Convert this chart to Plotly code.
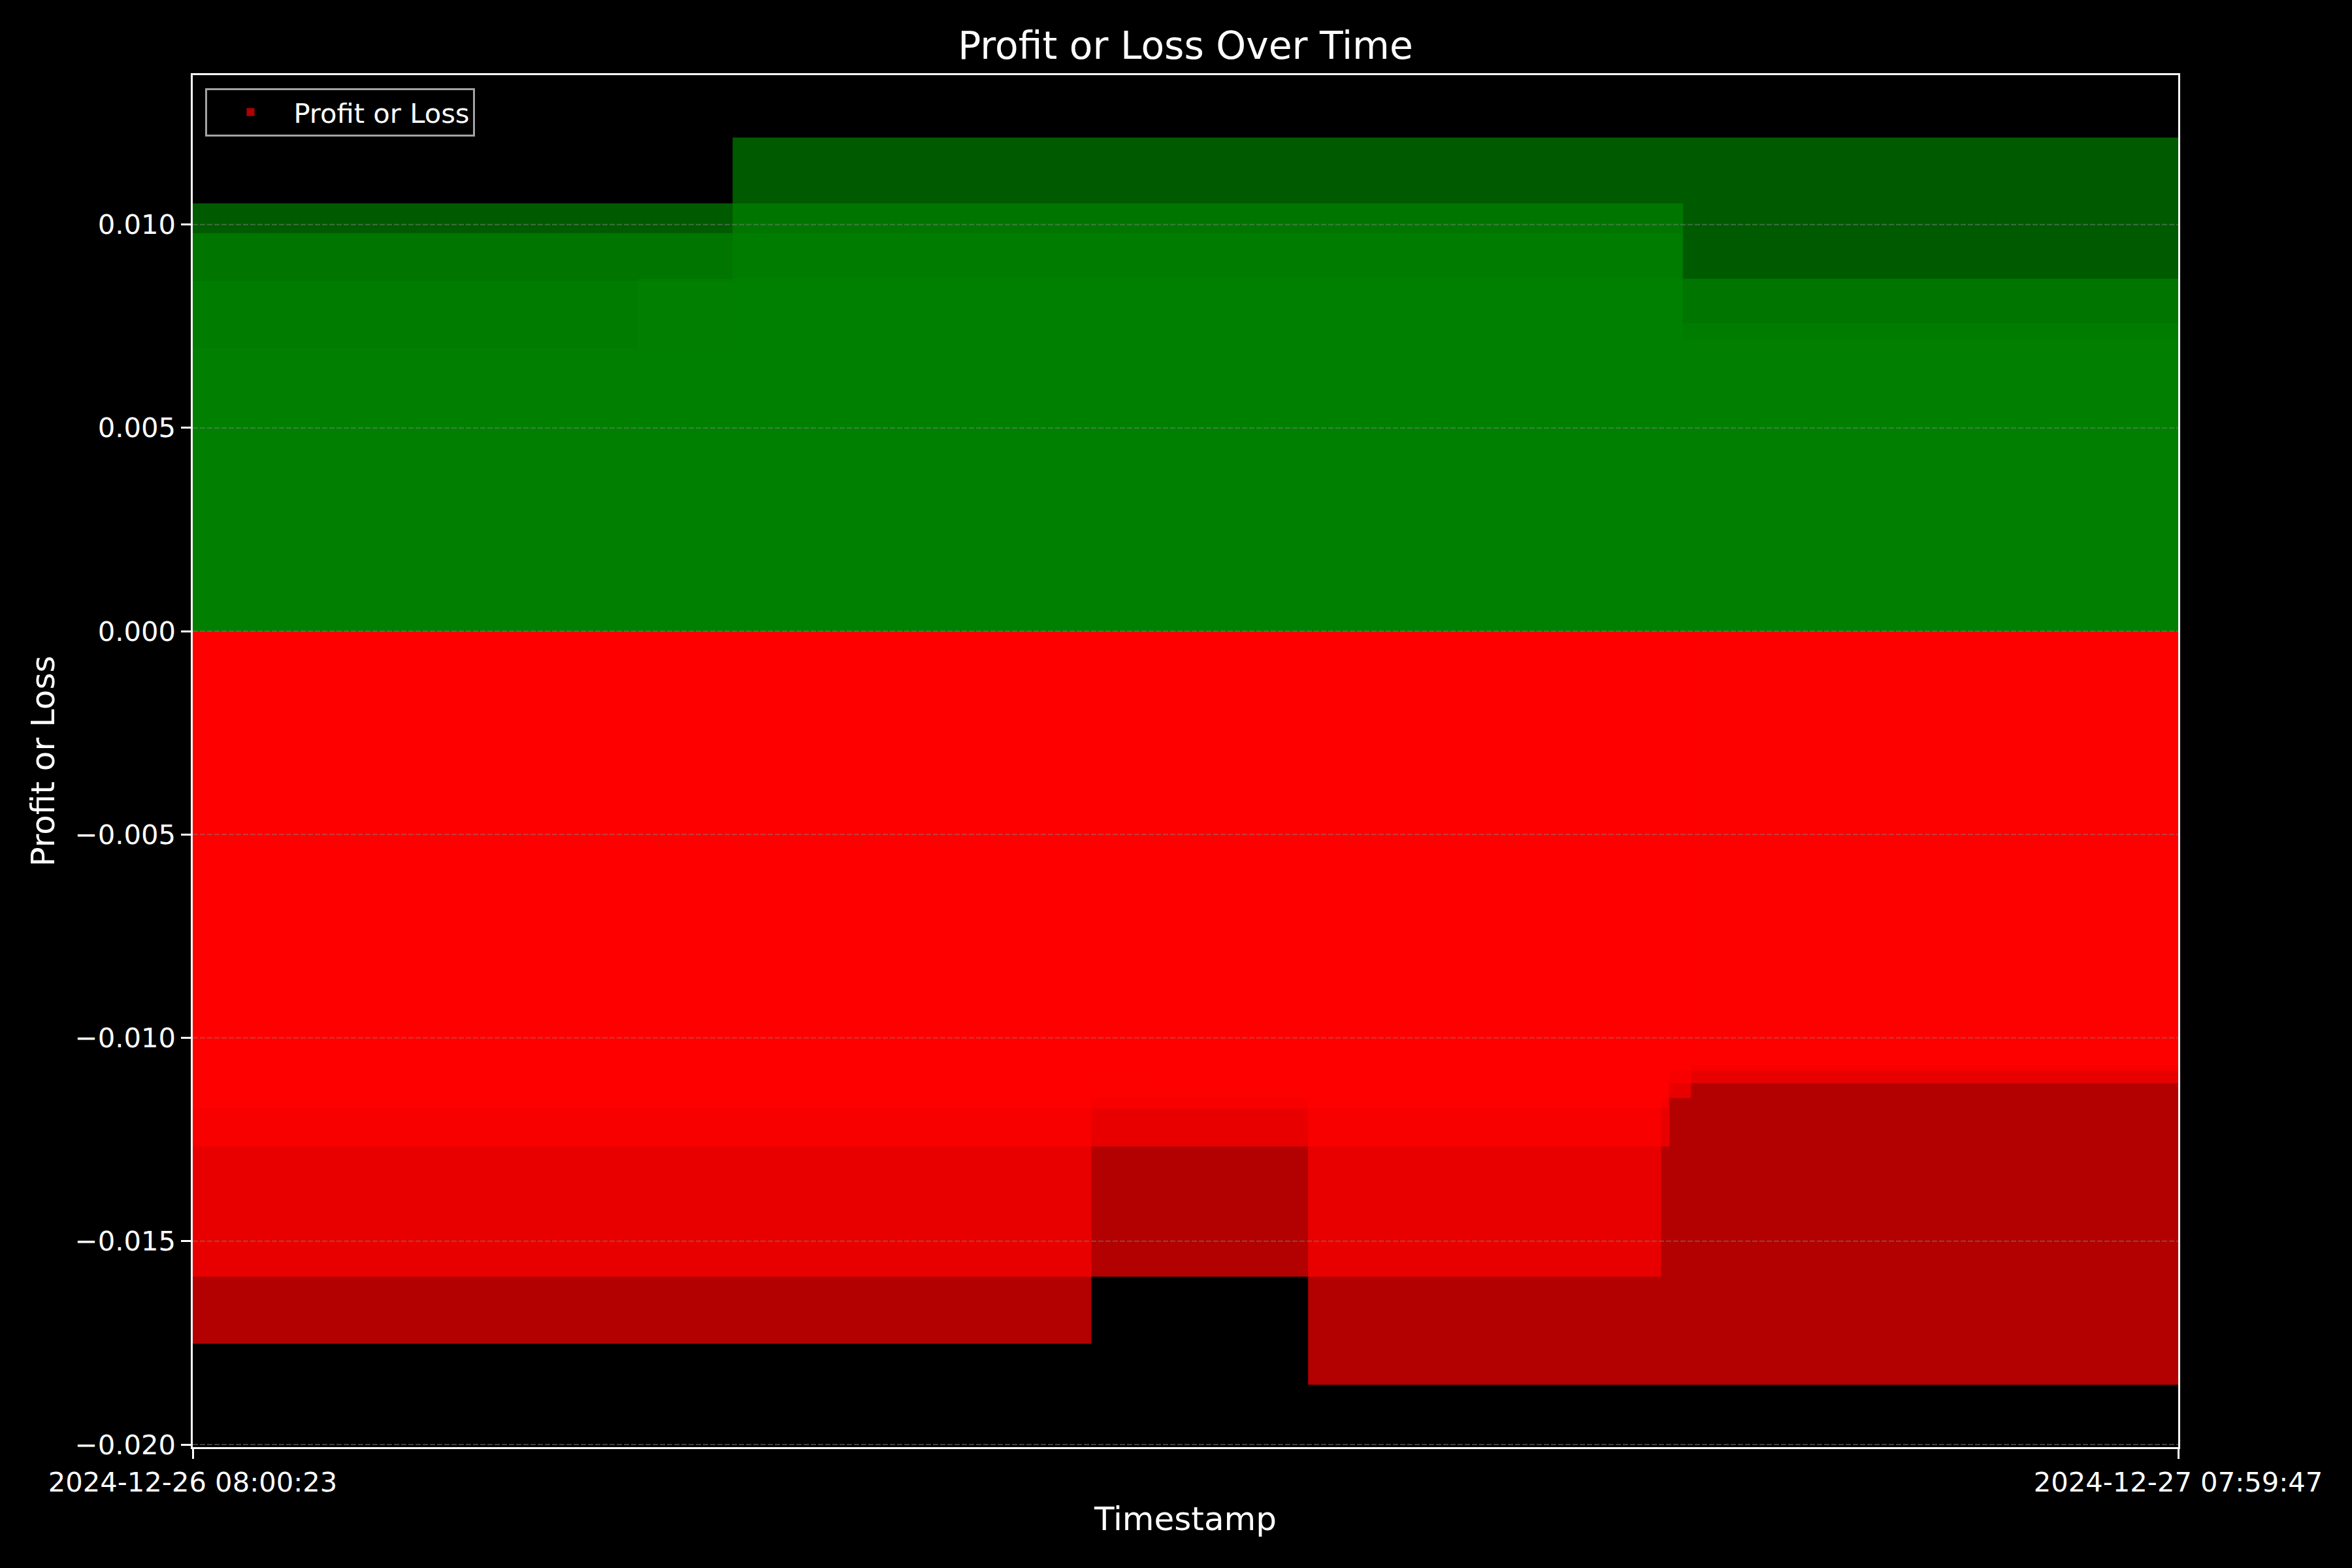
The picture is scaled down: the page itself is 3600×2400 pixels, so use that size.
import plotly.graph_objects as go

# ---- data ----
timestamps = [
    "2024-12-26 08:00:23", "2024-12-26 09:15:45", "2024-12-26 11:06:54",
    "2024-12-26 16:08:55", "2024-12-26 16:14:00", "2024-12-26 16:15:01",
    "2024-12-26 16:20:00", "2024-12-26 16:24:00", "2024-12-26 16:24:55",
    "2024-12-26 16:30:34", "2024-12-26 22:58:50", "2024-12-27 00:07:47",
    "2024-12-27 03:29:39", "2024-12-27 04:20:07", "2024-12-27 05:14:29",
    "2024-12-27 05:47:07", "2024-12-27 06:08:52", "2024-12-27 07:04:59",
    "2024-12-27 07:59:47",
]
pnl = [
    0.0, -0.01752, 0.00697,
    -0.01587, -0.01173, -0.01267,
    0.00861, 0.00979, 0.01052,
    -0.01148, 0.00867, 0.01214,
    0.00757, -0.01081, -0.01111,
    0.00718, -0.01067, -0.01853,
    0.0,
]
y_tick_values = [-0.020, -0.015, -0.010, -0.005, 0.000, 0.005, 0.010]
x_tick_labels = ["2024-12-26 08:00:23", "2024-12-27 07:59:47"]

BAR_WIDTH_DAYS = 0.8
ALPHA = 0.7
FONT = "DejaVu Sans"
FS = 41.67      # 10 pt at 300 dpi
FS_LABEL = 50   # 12 pt
FS_TITLE = 58.3 # 14 pt

colors = [f"rgba(0,128,0,{ALPHA})" if v > 0 else f"rgba(255,0,0,{ALPHA})" for v in pnl]

ymin, ymax = min(pnl), max(pnl)
pad = 0.05 * (ymax - ymin)
y_range = [ymin - pad, ymax + pad]

def fmt(v):
    s = f"{abs(v):.3f}"
    return ("\u2212" + s) if v < 0 else s

fig = go.Figure()
fig.add_trace(go.Bar(
    x=timestamps, y=pnl,
    width=BAR_WIDTH_DAYS * 86400000,
    marker=dict(color=colors, line=dict(width=0)),
    name="Profit or Loss", showlegend=True,
))

grid_shapes = [
    dict(type="line", xref="paper", x0=0, x1=1, yref="y", y0=v, y1=v,
         line=dict(color="rgba(128,128,128,0.5)", width=2, dash="8px,3px"),
         layer="above")
    for v in y_tick_values
]

fig.update_layout(
    width=3600, height=2400,
    paper_bgcolor="black", plot_bgcolor="black",
    margin=dict(l=295, r=266, t=115, b=185),
    barmode="overlay",
    font=dict(family=FONT, size=FS, color="white"),
    title=dict(text="Profit or Loss Over Time", x=0.5, xref="paper",
               y=1 - 70 / 2400, yref="container", yanchor="middle", xanchor="center",
               font=dict(family=FONT, size=FS_TITLE, color="white")),
    shapes=grid_shapes,
    legend=dict(x=0.0064, y=0.9905, xanchor="left", yanchor="top",
                bgcolor="rgba(0,0,0,0.8)", bordercolor="rgba(204,204,204,0.8)",
                borderwidth=3, itemwidth=122,
                font=dict(family=FONT, size=FS, color="white")),
    xaxis=dict(
        type="date", range=[timestamps[0], timestamps[-1]],
        tickvals=[timestamps[0], timestamps[-1]], ticktext=x_tick_labels,
        showgrid=False, zeroline=False,
        showline=True, mirror=True, linecolor="white", linewidth=3.3,
        ticks="outside", ticklen=14.6, tickwidth=3.3, tickcolor="white",
        tickfont=dict(family=FONT, size=FS, color="white"),
        title=dict(text="Timestamp", standoff=16,
                   font=dict(family=FONT, size=FS_LABEL, color="white")),
        layer="above traces",
    ),
    yaxis=dict(
        range=y_range,
        tickvals=y_tick_values, ticktext=[fmt(v) for v in y_tick_values],
        showgrid=False, zeroline=False,
        showline=True, mirror=True, linecolor="white", linewidth=3.3,
        ticks="outside", ticklen=14.6, tickwidth=3.3, tickcolor="white",
        tickfont=dict(family=FONT, size=FS, color="white"),
        title=dict(text="Profit or Loss", standoff=16,
                   font=dict(family=FONT, size=FS_LABEL, color="white")),
        layer="above traces",
    ),
)

fig.write_html("out.html")
